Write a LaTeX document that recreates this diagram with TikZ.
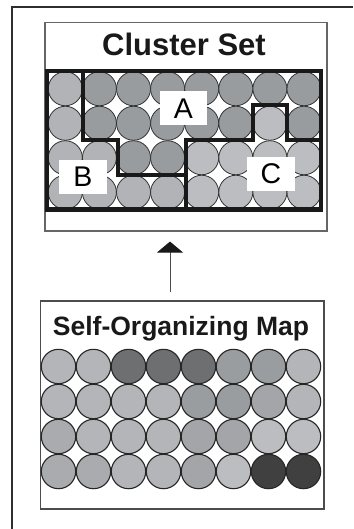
\documentclass[tikz,border=0pt]{standalone}
\usepackage{fontspec}
\setmainfont{Liberation Sans}
\usetikzlibrary{arrows.meta}
\definecolor{cL}{HTML}{B3B5B8}
\definecolor{cD}{HTML}{6D6F71}
\definecolor{cM}{HTML}{999DA0}
\definecolor{cMb}{HTML}{A3A5A8}
\definecolor{cLb}{HTML}{BBBDC0}
\definecolor{cK}{HTML}{404040}
\definecolor{cS}{HTML}{A9ABAE}
\definecolor{clA}{HTML}{989C9F}
\definecolor{clB}{HTML}{B1B3B6}
\definecolor{clC}{HTML}{BBBDC0}
\definecolor{frame}{HTML}{2E2E2E}
\tikzset{
  panel/.style={draw=#1, line width=1.1pt, inner sep=0pt, fill=white},
  somdot/.style={draw=black!85, line width=1.1pt},
  cldot/.style={draw=black!80, line width=0.8pt},
  region/.style={line width=4.3pt, black!90, line join=miter},
  tag/.style={fill=white, inner sep=0pt, minimum width=48pt, minimum height=34pt, font=\fontsize{28.5}{30}\selectfont},
  heading/.style={anchor=base, font=\bfseries\fontsize{#1}{#1}\selectfont, text=black!90}
}
\begin{document}
\begin{tikzpicture}[x=1pt,y=-1pt]
\useasboundingbox (0,0) rectangle (353,529);
% outer frame (partial)
\draw[line width=2pt, frame] (11.5,529) -- (11.5,7) -- (353,7);
% panels
\node[panel=black!60, minimum width=282pt, minimum height=208.3pt] (cluster) at (186,126.85) {};
\node[panel=black!70, minimum width=283.3pt, minimum height=208pt] (som) at (182.35,405) {};
% titles
\node[heading=31] (ctitle) at (184,55.5) {Cluster Set};
\node[heading=26.5] (stitle) at (181,335) {Self-Organizing Map};
% SOM circles
\foreach \row [count=\j from 0] in {
  {cL,cL,cD,cD,cD,cM,cM,cL},
  {cL,cL,cL,cL,cM,cM,cMb,cL},
  {cS,cL,cL,cL,cMb,cMb,cLb,cLb},
  {cS,cS,cL,cL,cMb,cLb,cK,cK}} {
  \foreach \c [count=\i from 0] in \row {
    \filldraw[somdot, fill=\c] ({58.5+35*\i},{366.5+35*\j}) circle (17.2);
  }
}
% Cluster circles
\foreach \row [count=\j from 0] in {
  {clB,clA,clA,clA,clA,clA,clA,clA},
  {clB,clA,clA,clA,clA,clA,clC,clA},
  {clB,clB,clA,clA,clC,clC,clC,clC},
  {clB,clB,clB,clB,clC,clC,clC,clC}} {
  \foreach \c [count=\i from 0] in \row {
    \filldraw[cldot, fill=\c] ({65.3+34.1*\i},{88.75+34.5*\j}) circle (17);
  }
}
% cluster boundaries
\draw[region] (46.7,71) rectangle (320.7,209.5);
\draw[region] (83,69) -- (83,140) -- (118,140) -- (118,175) -- (186,175);
\draw[region] (186,211) -- (186,140) -- (253,140) -- (253,105) -- (287,105) -- (287,140) -- (323,140);
% labels
\node[tag, minimum width=47pt] (la) at (183.5,108.5) {A};
\node[tag] (lb) at (83,177) {B};
\node[tag] (lc) at (271,174) {C};
% arrow
\draw[line width=1pt, black!70, shorten <=8pt, shorten >=10pt,
  -{Triangle[length=11pt, width=26pt, color=black!90]}] (som.north -| 170,0) -- (cluster.south -| 170,0);
\end{tikzpicture}
\end{document}
